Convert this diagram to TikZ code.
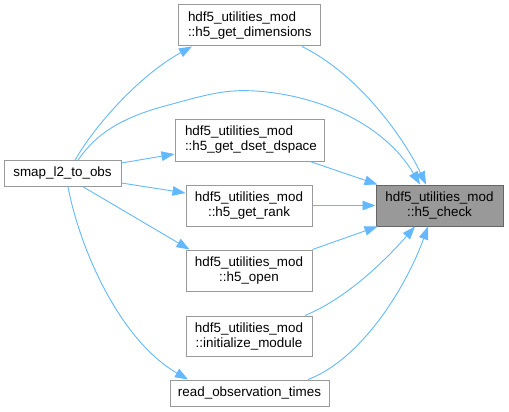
\documentclass[tikz,border=0pt]{standalone}
\usepackage{fontspec}
\setmainfont{Liberation Sans}
\usetikzlibrary{arrows.meta,calc}
\definecolor{edgeblue}{HTML}{63B8FF}
\definecolor{boxline}{HTML}{999999}
\definecolor{rootline}{HTML}{666666}
\definecolor{rootfill}{HTML}{999999}
\begin{document}
\begin{tikzpicture}[x=1pt,y=-1pt,
  fn/.style={draw=boxline,line width=1pt,fill=white,rectangle,inner sep=0pt,
    align=center,font=\fontsize{13.4}{15}\selectfont,minimum height=41pt},
  fnleft/.style={fn,align=left,text width=#1,inner xsep=10pt},
  fn1/.style={fn,minimum height=25.5pt},
  root/.style={fn,fill=rootfill,draw=rootline},
  edge/.style={draw=edgeblue,line width=0.9pt,-{Triangle[length=13pt,width=9.5pt]}}]
\useasboundingbox (0,0) rectangle (509,412);

\node[fnleft=122pt] (dims) at (249,25.5) {hdf5\_utilities\_mod\\::h5\_get\_dimensions};
\node[fnleft=129pt,minimum height=42pt] (dset) at (249.5,140) {hdf5\_utilities\_mod\\::h5\_get\_dset\_dspace};
\node[fn1,minimum width=117pt] (smap) at (62.5,173.5) {smap\_l2\_to\_obs};
\node[fn,minimum width=126pt] (rank) at (249,205.5) {hdf5\_utilities\_mod\\::h5\_get\_rank};
\node[root,minimum width=127pt] (check) at (439.5,205.5) {hdf5\_utilities\_mod\\::h5\_check};
\node[fn,minimum width=126pt] (open) at (249,270.5) {hdf5\_utilities\_mod\\::h5\_open};
\node[fn,minimum width=126pt,minimum height=40pt] (init) at (249,336) {hdf5\_utilities\_mod\\::initialize\_module};
\node[fn1,minimum width=159pt,minimum height=26pt] (read) at (249.5,393) {read\_observation\_times};

% smap -> callees
\draw[edge] ($(smap.north)+(12.5,0)$) .. controls (95,125) and (140,75) .. ($(dims.south)+(-57,0)$);
\draw[edge] ($(smap.north)+(15.5,0)$) .. controls (95,135) and (120,118) .. (165,106)
   .. controls (205,95) and (225,89) .. (255,91)
   .. controls (320,95) and (385,125) .. ($(check.north)+(-19.5,0)$);
\draw[edge] ($(smap.east)+(0,-10.5)$) -- ($(dset.west)+(0,14)$);
\draw[edge] ($(smap.east)+(0,9.5)$) -- ($(rank.west)+(0,-12.5)$);
\draw[edge] ($(smap.south)+(20.5,0)$) -- ($(open.north west)+(4,0)$);
\draw[edge] ($(smap.south)+(5.5,0)$) .. controls (80,250) and (120,340) .. ($(read.north)+(-61.5,0)$);

% callees -> h5_check
\draw[edge] ($(dims.south)+(53,0)$) .. controls (360,75) and (405,140) .. ($(check.north)+(-13.5,0)$);
\draw[edge] ($(dset.south)+(60.5,0)$) -- ($(check.north west)+(2,0)$);
\draw[edge] (rank.east) -- (check.west);
\draw[edge] (open.north east) -- ($(check.south west)+(2,0)$);
\draw[edge] ($(init.north)+(56,0)$) .. controls (350,297) and (390,255) .. ($(check.south)+(-24.5,0)$);
\draw[edge] ($(read.north)+(58.5,0)$) .. controls (360,360) and (405,290) .. ($(check.south)+(-11.5,0)$);
\end{tikzpicture}
\end{document}
